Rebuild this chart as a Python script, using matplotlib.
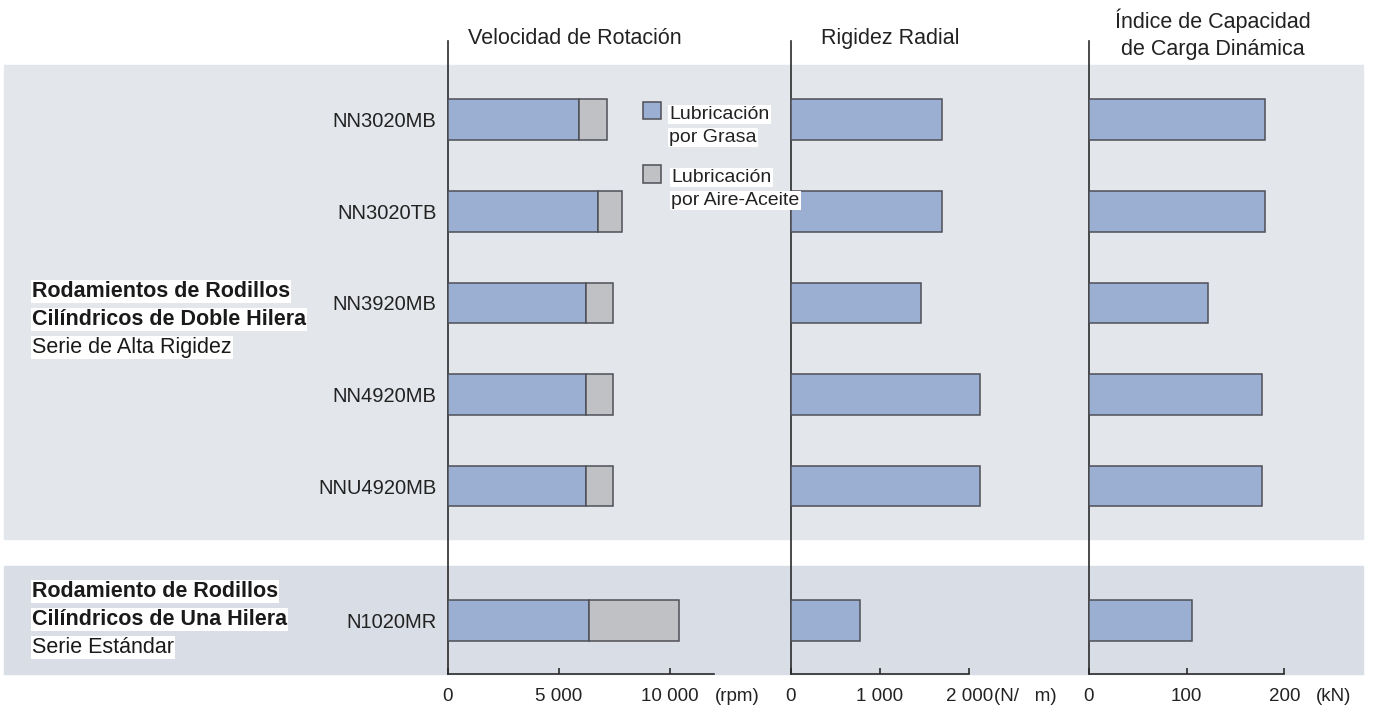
import matplotlib.pyplot as plt
from matplotlib.patches import Rectangle

plt.rcParams['font.family'] = ['Liberation Sans', 'DejaVu Sans']

# data
models = ["NN3020MB", "NN3020TB", "NN3920MB", "NN4920MB", "NNU4920MB", "N1020MR"]
speed_grease = [5900, 6750, 6200, 6200, 6200, 6350]      # rpm
speed_airoil = [7150, 7850, 7450, 7450, 7450, 10400]     # rpm
rigidity = [1690, 1690, 1460, 2115, 2115, 775]           # N/um
load_rating = [180, 180, 122, 177, 177, 106]             # kN

titles = ["Velocidad de Rotación", "Rigidez Radial", "Índice de Capacidad\nde Carga Dinámica"]
units = ["(rpm)", "(N/   m)", "(kN)"]
ticks = [[0, 5000, 10000], [0, 1000, 2000], [0, 100, 200]]
tick_labels = [["0", "5 000", "10 000"], ["0", "1 000", "2 000"], ["0", "100", "200"]]
axis_ends = [12000, 2000, 200]

BLUE = "#9bafd3"
GRAY = "#c0c1c5"
EDGE = "#4f4f57"
PANEL1 = "#e3e6eb"
PANEL2 = "#d9dde5"
LINE = "#2b2b2b"

W, H = 1377, 709
fig = plt.figure(figsize=(W / 100, H / 100), dpi=100)


def fx(px):
    return px / W


def fy(py):
    return 1 - py / H


# background panels
fig.patches.append(Rectangle((fx(4), fy(539)), fx(1363) - fx(4), fy(65) - fy(539),
                             transform=fig.transFigure, color=PANEL1, zorder=-2))
fig.patches.append(Rectangle((fx(4), fy(674)), fx(1363) - fx(4), fy(566) - fy(674),
                             transform=fig.transFigure, color=PANEL2, zorder=-2))

# layout: pixel position of each axis origin, px per unit, right edge
origins = [447.7, 790.8, 1088.8]
px_per_unit = [222.3 / 10000, 178.5 / 2000, 195.5 / 200]
rights = [785, 1085, 1370]
top_px, bot_px = 41, 674
pitch = 91.6
first_row = 119.7
ypos = [0, 1, 2, 3, 4, 5.47]
bar_h = 40.7 / pitch

axes = []
for i in range(3):
    ax = fig.add_axes([fx(origins[i]), fy(bot_px), fx(rights[i]) - fx(origins[i]), fy(top_px) - fy(bot_px)])
    ax.set_zorder(1)
    ax.set_facecolor("none")
    ax.set_xlim(0, (rights[i] - origins[i]) / px_per_unit[i])
    ax.set_ylim((bot_px - first_row) / pitch, (top_px - first_row) / pitch)
    for s in ["top", "right"]:
        ax.spines[s].set_visible(False)
    ax.spines["left"].set_color(LINE)
    ax.spines["bottom"].set_color(LINE)
    ax.spines["left"].set_linewidth(1.2)
    ax.spines["bottom"].set_linewidth(1.2)
    ax.spines["bottom"].set_bounds(0, axis_ends[i])
    ax.set_xticks(ticks[i])
    ax.set_xticklabels(tick_labels[i], fontsize=13.5, color="#222222")
    ax.tick_params(axis="x", direction="in", length=4, width=1.2, color=LINE, pad=10)
    axes.append(ax)

ax1, ax2, ax3 = axes

ax1.barh(ypos, speed_grease, height=bar_h, color=BLUE, edgecolor=EDGE, linewidth=1.1, zorder=3)
ax1.barh(ypos, [a - g for a, g in zip(speed_airoil, speed_grease)], left=speed_grease,
         height=bar_h, color=GRAY, edgecolor=EDGE, linewidth=1.1, zorder=3)
ax2.barh(ypos, rigidity, height=bar_h, color=BLUE, edgecolor=EDGE, linewidth=1.1, zorder=3, clip_on=False)
ax3.barh(ypos, load_rating, height=bar_h, color=BLUE, edgecolor=EDGE, linewidth=1.1, zorder=3)

ax1.set_yticks(ypos)
ax1.set_yticklabels(models, fontsize=14.5, color="#222222")
ax1.tick_params(axis="y", length=0, pad=8)
for ax in (ax2, ax3):
    ax.set_yticks([])

# unit labels
unit_x = [715, 994, 1316]
for i, u in enumerate(units):
    fig.text(fx(unit_x[i]), fy(701), u, fontsize=13.5, color="#222222", ha="left", va="baseline")

# column titles
fig.text(fx(575), fy(44), titles[0], fontsize=15.5, color="#222222", ha="center", va="baseline")
fig.text(fx(890), fy(44), titles[1], fontsize=15.5, color="#222222", ha="center", va="baseline")
fig.text(fx(1213), fy(55), titles[2], fontsize=15.5, color="#222222", ha="center", va="baseline",
         linespacing=1.4)

# legend
box = dict(facecolor="white", edgecolor="none", pad=1)
fig.patches.append(Rectangle((fx(643), fy(119.3)), fx(661) - fx(643), fy(101.7) - fy(119.3),
                             transform=fig.transFigure, facecolor=BLUE, edgecolor=EDGE, lw=1.1, zorder=5))
fig.patches.append(Rectangle((fx(643), fy(182.7)), fx(661) - fx(643), fy(165) - fy(182.7),
                             transform=fig.transFigure, facecolor=GRAY, edgecolor=EDGE, lw=1.1, zorder=5))
for txt, x, y in [("Lubricación", 669, 119), ("por Grasa", 669, 142),
                  ("Lubricación", 671, 182), ("por Aire-Aceite", 671, 205)]:
    fig.text(fx(x), fy(y), txt, fontsize=14, color="#222222", ha="left", va="baseline", bbox=box, zorder=6)

# group labels
groups = [
    [("Rodamientos de Rodillos", "bold", 297), ("Cilíndricos de Doble Hilera", "bold", 325),
     ("Serie de Alta Rigidez", "normal", 353)],
    [("Rodamiento de Rodillos", "bold", 597), ("Cilíndricos de Una Hilera", "bold", 625),
     ("Serie Estándar", "normal", 653)],
]
for grp in groups:
    for txt, w, y in grp:
        fig.text(fx(32), fy(y), txt, fontsize=15.5, fontweight=w, color="#1a1a1a",
                 ha="left", va="baseline", bbox=box)

fig.savefig("out.png", dpi=100)
